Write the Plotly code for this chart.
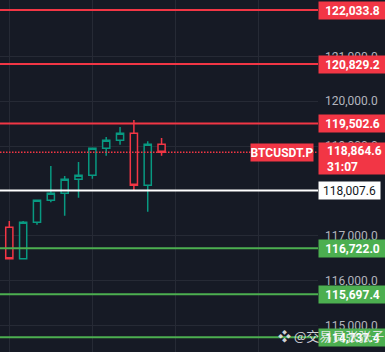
import plotly.graph_objects as go

# ---- data ----
candle_idx = list(range(13))
opens  = [116980, 117190, 116489, 117301, 117792, 117948, 118260, 118349, 118951, 119129, 119285, 118126, 119040]
highs  = [117190, 117330, 117330, 117792, 118556, 118333, 118645, 118951, 119203, 119426, 119582, 119107, 119181]
lows   = [116980, 116489, 116489, 117248, 117747, 117448, 117850, 118273, 118786, 119031, 117999, 117537, 118786]
closes = [117190, 116489, 117301, 117792, 117948, 118260, 118349, 118951, 119129, 119285, 118126, 119040, 118864.6]

red_levels = [122033.8, 120829.2, 119502.6]
white_levels = [118007.6]
green_levels = [116722.0, 115697.4, 114737.4]
last_price = 118864.6
symbol = "BTCUSDT.P"
countdown = "31:07"
y_ticks = [115000, 116000, 117000, 118000, 119000, 120000, 121000]
x_grid = [1, 7, 13, 19]
watermark = "❖ @交易员张张子"

# ---- style ----
BG = "#161a25"
GRID = "#262a35"
RED = "#f23645"
GREEN_C = "#089981"
GREEN_L = "#4caf50"
TXT = "#b2b5be"
FONT = "Roboto"

fig = go.Figure()
fig.add_trace(go.Candlestick(
    x=candle_idx, open=opens, high=highs, low=lows, close=closes,
    increasing=dict(line=dict(color=GREEN_C, width=1.5), fillcolor=BG),
    decreasing=dict(line=dict(color=RED, width=1.5), fillcolor=BG),
    whiskerwidth=0, hoverinfo="skip", showlegend=False,
))

shapes = []
annos = []

def level(val, color, txtcolor, width=67, bold=True):
    shapes.append(dict(type="line", xref="paper", x0=0, x1=1, yref="y", y0=val, y1=val,
                       line=dict(color=color, width=2), layer="above"))
    t = f"{val:,.1f}"
    annos.append(dict(xref="paper", x=1, xanchor="left", yref="y", y=val, yanchor="middle",
                      text=f"<b>{t}</b>" if bold else t, showarrow=False,
                      bgcolor=color, borderpad=0, width=width, height=17, align="center",
                      font=dict(family=FONT, size=12, color=txtcolor)))

for v in red_levels:
    level(v, RED, "white")
for v in white_levels:
    level(v, "#ffffff", "#131722", width=61, bold=False)
for v in green_levels:
    level(v, GREEN_L, "white")

# last price dotted line
shapes.append(dict(type="line", xref="paper", x0=0, x1=1, yref="y", y0=last_price, y1=last_price,
                   line=dict(color=RED, width=1.5, dash="1.5px,1.5px"), layer="above"))
annos.append(dict(xref="paper", x=1, xanchor="left", yref="y", y=last_price, yanchor="middle",
                  yshift=-6.5, text=" ", showarrow=False, bgcolor=RED, borderpad=0,
                  width=67, height=31, font=dict(family=FONT, size=12, color="white")))
annos.append(dict(xref="paper", x=1, xanchor="left", xshift=7, yref="y", y=last_price,
                  yanchor="middle", yshift=-6.5, align="left", showarrow=False,
                  text=f"<b>{last_price:,.1f}</b><br><b>{countdown}</b>",
                  font=dict(family=FONT, size=12, color="white")))
annos.append(dict(xref="paper", x=1, xanchor="right", xshift=-4, yref="y", y=last_price,
                  yanchor="middle", showarrow=False, text=f"<b>{symbol}</b>", bgcolor=RED,
                  borderpad=0, width=62, height=17, align="center",
                  font=dict(family=FONT, size=12, color="white")))
# watermark
annos.append(dict(xref="paper", x=276/318, xanchor="left", yref="paper", y=1-335/352,
                  yanchor="middle", showarrow=False, text=watermark,
                  font=dict(family="Noto Sans CJK SC", size=13, color="rgba(235,235,240,0.9)")))

fig.update_layout(
    width=385, height=352,
    margin=dict(l=0, r=67, t=0, b=0),
    paper_bgcolor=BG, plot_bgcolor=BG,
    boxgap=0.26,
    shapes=shapes, annotations=annos,
    xaxis=dict(range=[0.328, 23.3], tickvals=x_grid, showticklabels=False, showgrid=True,
               gridcolor=GRID, gridwidth=1, zeroline=False, rangeslider=dict(visible=False),
               showline=False, fixedrange=True),
    yaxis=dict(range=[114409, 122257], side="right", tickvals=y_ticks, tickformat=",.1f",
               showgrid=True, gridcolor=GRID, gridwidth=1, zeroline=False, showline=False,
               ticks="", ticklabelstandoff=6, automargin=False,
               tickfont=dict(family=FONT, size=12, color=TXT)),
    font=dict(family=FONT),
)

fig.write_html("out.html")
